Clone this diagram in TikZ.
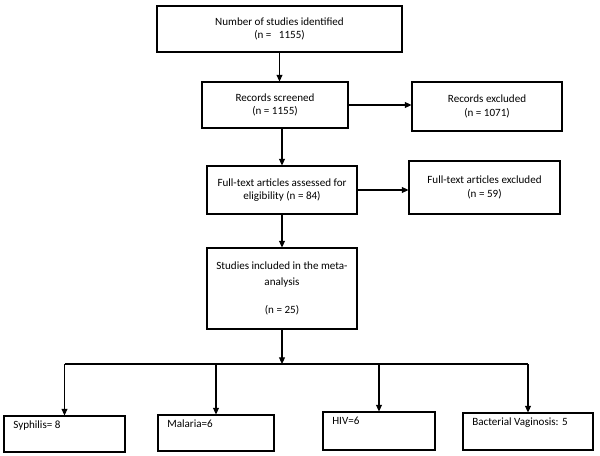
\documentclass[tikz,border=0pt]{standalone}
\usepackage{fontspec}
\setmainfont{Carlito}
\usetikzlibrary{arrows.meta}

\tikzset{every picture/.style={line width=0.8pt}}
\tikzset{
  flowbox/.style={draw, rectangle, inner sep=0.75pt, align=center, font=\fontsize{8.3}{10}\selectfont},
  leafbox/.style={draw, rectangle, inner sep=0pt},
  leaftext/.style={anchor=north west, inner xsep=7pt, inner ysep=3.5pt, font=\fontsize{8.3}{10}\selectfont},
  arr/.style={-{Triangle[width=4.5pt,length=5pt]}}
}

\begin{document}
\begin{tikzpicture}[x=0.75pt,y=0.75pt,yscale=-1,xscale=1]
\useasboundingbox (0,0) rectangle (600,456);

% Text Node
\node [flowbox, minimum width=183.75pt, minimum height=34.5pt] (ident) at (279.5,29) {Number of studies identified\\(n =\ \ \ 1155)};
% Text Node
\node [flowbox, minimum width=109.5pt, minimum height=34.5pt] (screen) at (275,105) {Records screened\\(n = 1155)};
% Text Node
\node [flowbox, minimum width=112.5pt, minimum height=36.75pt] (excl1) at (487,106.5) {Records excluded\\(n = 1071)};
% Text Node
\node [flowbox, minimum width=112.5pt, minimum height=36pt] (assess) at (282,190) {Full-text articles assessed for\\eligibility (n = 84)};
% Text Node
\node [flowbox, minimum width=113.25pt, minimum height=39.75pt] (excl2) at (484.5,187.5) {Full-text articles excluded\\(n = 59)};
% Text Node
\node [flowbox, minimum width=112.5pt, minimum height=60.75pt] (incl) at (282,288.5) {Studies included in the meta-\\[2.5pt]analysis\\[11pt](n = 25)};

%Shape: Rectangle
\node [leafbox, minimum width=90.75pt, minimum height=27pt] (syph) at (64.5,434) {};
\node [leafbox, minimum width=87pt, minimum height=27pt] (mal) at (216,433) {};
\node [leafbox, minimum width=84pt, minimum height=28.5pt] (hiv) at (379,431) {};
\node [leafbox, minimum width=97.5pt, minimum height=27.75pt] (bv) at (528,431.5) {};
% Text Node
\node [leaftext] (syphtxt) at (syph.north west) {Syphilis= 8};
\node [leaftext] (maltxt) at (mal.north west) {Malaria=6};
\node [leaftext] (hivtxt) at (hiv.north west) {HIV=6};
\node [leaftext] (bvtxt) at (bv.north west) {Bacterial Vaginosis: 5};

%Straight Lines
\draw [arr] (ident.south) -- (ident.south |- screen.north);
\draw [arr] (screen.east) -- (screen.east -| excl1.west);
\draw [arr] (assess.north |- screen.south) -- (assess.north);
\draw [arr] (assess.east) -- (assess.east -| excl2.west);
\draw [arr] (assess.south) -- (incl.north);

%Straight Lines
\coordinate (split) at (282,364);
\draw [arr] (incl.south) -- (split);
\draw (syph.north |- split) -- (bv.north |- split);
\foreach \leaf in {syph,mal,hiv,bv}
  \draw [arr] (\leaf.north |- split) -- (\leaf.north);

\end{tikzpicture}
\end{document}
